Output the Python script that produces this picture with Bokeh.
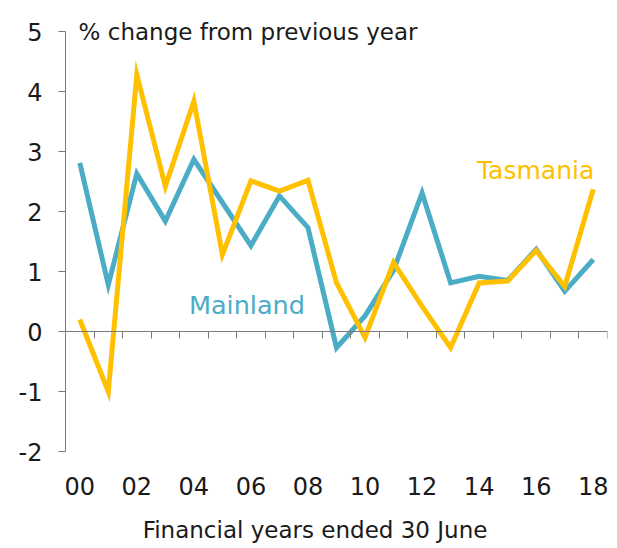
from bokeh.plotting import figure
from bokeh.models import Range1d, FixedTicker, LinearAxis, Label, ColumnDataSource
from bokeh.embed import file_html
from bokeh.resources import INLINE

years = list(range(0, 19))
year_labels = ["00", "02", "04", "06", "08", "10", "12", "14", "16", "18"]
tasmania = [0.2, -1.0, 4.28, 2.42, 3.84, 1.28, 2.51, 2.34, 2.52, 0.81, -0.1,
            1.15, 0.42, -0.27, 0.81, 0.84, 1.35, 0.75, 2.37]
mainland = [2.81, 0.78, 2.63, 1.84, 2.87, 2.15, 1.43, 2.26, 1.73, -0.27, 0.26,
            1.02, 2.31, 0.81, 0.92, 0.85, 1.37, 0.67, 1.2]
y_ticks = [-2, -1, 0, 1, 2, 3, 4, 5]
y_tick_labels = ["-2", "-1", "0", "1", "2", "3", "4", "5"]

FONT = "DejaVu Sans"
GOLD = "#FFC000"
TEAL = "#4BACC6"
AXIS = "#7a7a7a"
TXT = "#1a1a1a"

p = figure(width=609, height=546, output_backend="svg", toolbar_location=None,
           x_range=Range1d(-0.5, 18.5), y_range=Range1d(-3.5833, 5.25),
           min_border_left=65, min_border_right=2, min_border_top=16, min_border_bottom=0,
           x_axis_location=None, y_axis_location=None)
p.outline_line_color = None
p.grid.visible = False
p.background_fill_color = "white"
p.border_fill_color = "white"

src = ColumnDataSource(dict(x=years, tas=tasmania, main=mainland))
p.line("x", "main", source=src, line_color=TEAL, line_width=5, line_join="miter")
p.line("x", "tas", source=src, line_color=GOLD, line_width=5, line_join="miter")

# y axis
yax = LinearAxis(ticker=FixedTicker(ticks=y_ticks), bounds=(-2, 5))
yax.major_label_overrides = dict(zip(y_ticks, y_tick_labels))
yax.axis_line_color = AXIS
yax.major_tick_line_color = AXIS
yax.major_tick_in = 0
yax.major_tick_out = 7
yax.minor_tick_line_color = None
yax.major_label_text_font = FONT
yax.major_label_text_font_size = "24px"
yax.major_label_text_color = TXT
yax.major_label_standoff = 16
p.add_layout(yax, "left")

# x axis line at zero, ticks between categories
zax = LinearAxis(ticker=FixedTicker(ticks=[i - 0.5 for i in range(0, 20)]), fixed_location=0)
zax.axis_line_color = AXIS
zax.major_tick_line_color = AXIS
zax.major_tick_in = 0
zax.major_tick_out = 7
zax.minor_tick_line_color = None
zax.major_label_text_color = None
zax.major_label_text_font_size = "1px"
p.add_layout(zax, "below")

# year labels below the bottom of the value axis
xax = LinearAxis(ticker=FixedTicker(ticks=list(range(0, 19, 2))), fixed_location=-2)
xax.major_label_overrides = {i * 2: s for i, s in enumerate(year_labels)}
xax.axis_line_color = None
xax.major_tick_line_color = None
xax.minor_tick_line_color = None
xax.major_label_text_font = FONT
xax.major_label_text_font_size = "24px"
xax.major_label_text_color = TXT
xax.major_label_standoff = 19
p.add_layout(xax, "below")

p.add_layout(Label(x=8.247, y=-3.31, text="Financial years ended 30 June", text_font=FONT,
                   text_font_size="23px", text_color=TXT, text_baseline="middle",
                   text_align="center"))
p.add_layout(Label(x=-0.04, y=5, text="% change from previous year", text_font=FONT,
                   text_font_size="23px", text_color=TXT, text_baseline="middle",
                   text_align="left"))
p.add_layout(Label(x=5.86, y=0.44, text="Mainland", text_font=FONT,
                   text_font_size="25.5px", text_color=TEAL, text_baseline="middle",
                   text_align="center"))
p.add_layout(Label(x=15.98, y=2.68, text="Tasmania", text_font=FONT,
                   text_font_size="25px", text_color=GOLD, text_baseline="middle",
                   text_align="center"))

open("out.html", "w").write(file_html(p, INLINE))
